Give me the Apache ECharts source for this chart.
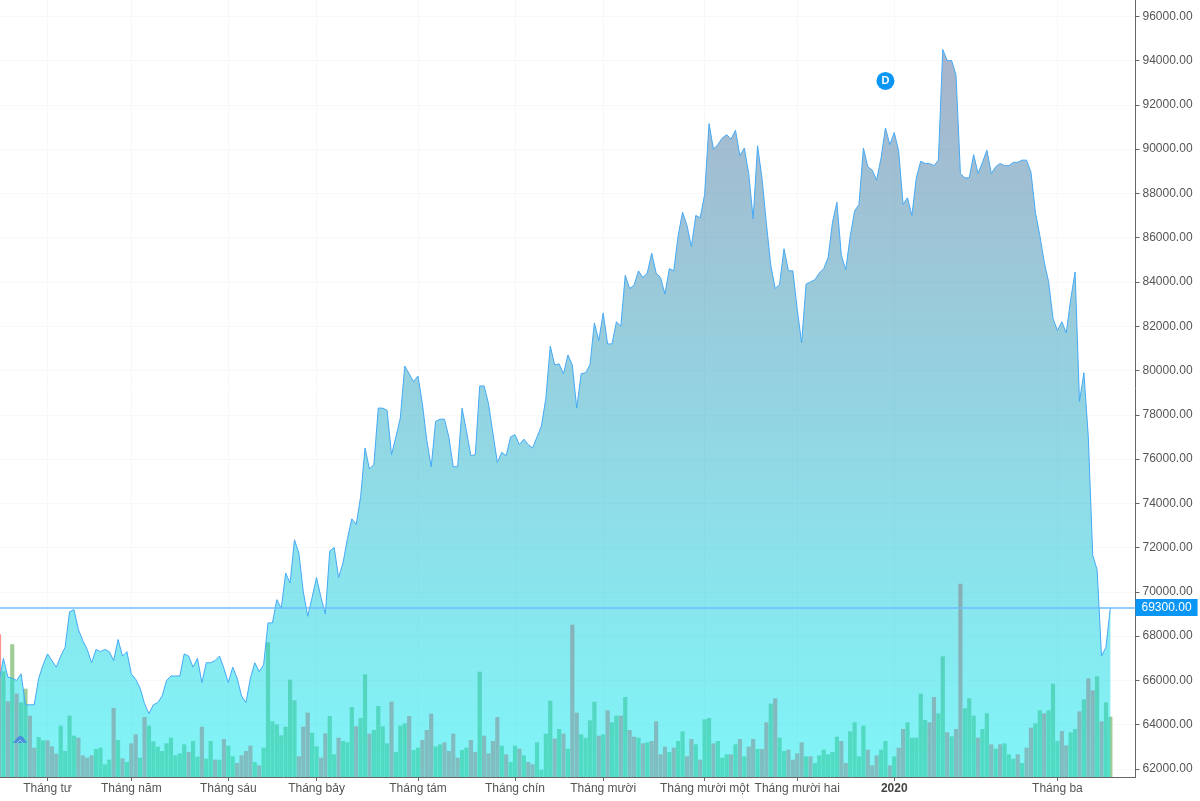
<!DOCTYPE html>
<html>
<head>
<meta charset="utf-8">
<style>html,body{margin:0;padding:0;background:#fff;overflow:hidden}#c{width:1200px;height:801px}</style>
<script src="https://cdn.jsdelivr.net/npm/echarts@6/dist/echarts.min.js"></script>
</head>
<body>
<div id="c"></div>
<script>
const closes = [
65950,67000,66150,66100,66000,66300,64900,64900,64900,66100,
66700,67200,66900,66600,67100,67500,69100,69200,68300,67800,
67400,66800,67400,67300,67400,67300,66900,67850,67100,67300,
66300,66050,65650,64950,64500,64900,65000,65300,66000,66200,
66200,66200,67200,67100,66600,67000,65900,66800,66800,66900,
67100,66550,65900,66600,66100,65300,65000,66100,66800,66400,
66700,68600,68600,69650,69250,70850,70400,72350,71750,70000,
68900,69750,70650,69750,69000,71850,72000,70650,71300,72400,
73300,73050,74300,76500,75550,75750,78300,78300,78200,76200,
77000,77850,80200,79850,79500,79750,78500,76850,75650,77700,
77800,77800,77000,75650,75650,78300,77250,76150,76200,79300,
79300,78500,77150,75850,76300,76150,77000,77100,76650,76900,
76650,76500,77000,77500,78750,81100,80250,80300,79850,80700,
80250,78300,79850,79900,80250,82150,81350,82600,81200,81200,
82200,82000,84300,83700,83850,84500,84200,84400,85300,84400,
84200,83450,84600,84500,86100,87150,86550,85600,87000,86900,
87950,91150,90000,90200,90500,90650,90450,90850,89700,90050,
88900,86850,90150,88700,86650,84750,83700,83900,85500,84500,
84500,82750,81250,83900,84000,84100,84400,84600,85100,86700,
87600,85200,84550,86050,87200,87500,90050,89200,89050,88600,
89600,90950,90200,90750,89900,87500,87800,87000,88700,89450,
89350,89350,89250,89500,94500,94000,94000,93350,88900,88700,
88700,89750,88900,89400,89950,88900,89200,89350,89250,89250,
89400,89400,89500,89500,88950,87150,86100,84900,84000,82350,
81800,82200,81700,83200,84450,78600,79900,77000,71650,71000,
67100,67500,69300];

const volumes = [
428,317,227,398,250,224,265,184,88,120,
110,110,92,70,154,78,184,124,118,65,
58,65,84,88,38,52,207,111,56,45,
101,128,58,180,154,107,91,78,101,118,
65,71,98,75,108,61,151,55,108,52,
52,114,94,62,42,65,78,94,45,35,
88,404,167,158,125,151,292,230,62,151,
193,133,92,58,131,183,68,118,108,104,
210,152,177,308,130,141,213,152,101,226,
75,154,161,183,81,88,111,141,190,92,
98,104,78,130,58,81,88,111,75,316,
124,71,108,180,94,68,45,94,85,65,
45,38,104,22,130,229,115,144,130,85,
457,193,128,118,170,226,124,128,200,164,
184,184,240,141,121,118,101,104,108,167,
68,91,75,88,108,137,62,114,98,52,
173,177,101,108,58,68,68,98,114,62,
91,114,84,84,164,220,236,118,78,82,
52,71,104,62,62,42,65,82,68,75,
121,108,42,137,164,62,154,82,35,65,
82,108,35,62,88,144,164,118,118,250,
171,164,240,191,362,134,122,144,580,206,
236,184,118,144,191,98,85,98,101,68,
55,68,42,88,148,161,200,191,200,280,
108,138,95,134,144,197,233,296,260,302,
167,224,181];

const volumeDirs = [
"dududuuddu","uddduuuudd","dduuuududu","ddu"+"d"+"uuuuuu",
"uuuduuduud","uduudddd"+"ud","uuuuuuuudd","duudduuduu","uduuduuuud","uuuduudddu",
"uddd"+"duudd"+"u","dddduduudu","dduuuududu","dduuuududu","ududdududd",
"ddudu"+"uddud","uuduuududu","ddudduduud","dddud"+"uuuuu","udduu"+"uuddd",
"uudud"+"duuuu","udduu"+"duddu","uuduu"+"duduu","ududd"+"uuduu","udduu"+"duddu","duu"
].join("");

const yTicks = [62000,64000,66000,68000,70000,72000,74000,76000,78000,80000,82000,84000,86000,88000,90000,92000,94000,96000];
const monthIndex = [11,30,52,72,95,117,137,160,181,203,240];
const monthLabels = ["Tháng tư","Tháng năm","Tháng sáu","Tháng bảy","Tháng tám","Tháng chín","Tháng mười","Tháng mười một","Tháng mười hai","2020","Tháng ba"];
const lastPrice = 69300;
const dividendIndex = 201, dividendLevel = 93077;

const FONT = '"Liberation Sans", Arial, sans-serif';
const TEXT = '#555';
const GRIDC = '#f8f8f8';
const chart = echarts.init(document.getElementById('c'), null, {renderer:'canvas'});

chart.setOption({
  animation:false,
  backgroundColor:'#fff',
  grid:{left:0,right:64.5,top:0,bottom:24,containLabel:false},
  xAxis:{
    type:'value', min:0.227, max:257.7, position:'bottom',
    axisLine:{show:true,onZero:false,lineStyle:{color:'#666',width:1}},
    axisTick:{show:true,length:4,inside:false,lineStyle:{color:'#666'},customValues:monthIndex},
    axisLabel:{show:true,customValues:monthIndex,margin:6,fontFamily:FONT,fontSize:12,color:TEXT,hideOverlap:false,
      formatter:v=>{const k=monthIndex.indexOf(v);const s=monthLabels[k]||'';return s==='2020'?'{b|'+s+'}':s;},
      rich:{b:{fontFamily:FONT,fontSize:12,fontWeight:'bold',color:'#444'}}},
    splitLine:{show:true,lineStyle:{color:GRIDC},customValues:monthIndex}
  },
  yAxis:[
    {type:'value',position:'right',min:61639,max:96733,scale:true,
     axisLine:{show:true,onZero:false,lineStyle:{color:'#666',width:1}},
     axisTick:{show:true,length:4,lineStyle:{color:'#666'},customValues:yTicks},
     axisLabel:{show:true,customValues:yTicks,margin:7,fontFamily:FONT,fontSize:12,color:TEXT,formatter:v=>v.toFixed(2)},
     splitLine:{show:true,lineStyle:{color:GRIDC},customValues:yTicks}},
    {type:'value',position:'right',min:0,max:2331,show:false,splitLine:{show:false}}
  ],
  series:[
    {type:'bar',name:'volume',yAxisIndex:1,barWidth:4.2,z:1,silent:true,
     data:volumes.map((v,i)=>({value:[i,v],itemStyle:{color:volumeDirs[i]==='u'?'#a0cd96':'#ff9191'}}))},
    {type:'line',name:'price',yAxisIndex:0,z:2,silent:true,symbol:'none',
     data:closes.map((v,i)=>[i,v]),
     lineStyle:{color:'#45a9f5',width:1},
     areaStyle:{origin:'start',opacity:1,color:new echarts.graphic.LinearGradient(0,0,0,1,[
       {offset:0,color:'rgba(81,105,151,0.5)'},
       {offset:1,color:'rgba(0,236,242,0.5)'}])},
     markLine:{silent:true,symbol:'none',animation:false,
       label:{show:true,position:'end',distance:0,formatter:lastPrice.toFixed(2),
         backgroundColor:'#0a96f5',color:'#fff',fontFamily:FONT,fontSize:12,padding:[3,6,2,6]},
       data:[{yAxis:lastPrice,lineStyle:{color:'#6cbcff',type:'solid',width:1.5,opacity:1}}]},
     markPoint:{silent:true,animation:false,symbol:'circle',symbolSize:18,
       itemStyle:{color:'#0a96f5'},
       label:{show:true,formatter:'D',color:'#fff',fontFamily:FONT,fontWeight:'bold',fontSize:11},
       data:[{coord:[dividendIndex,dividendLevel]}]}
    }
  ],
  graphic:[
    {type:'polygon',z:50,silent:true,shape:{points:[[13,743],[17,738],[20,735.5],[23,737],[27,743]]},style:{fill:'#4a8fdc'}},
    {type:'polyline',z:51,silent:true,shape:{points:[[17,743],[20,740],[23,743]]},style:{stroke:'#9fd6ee',lineWidth:0.8,fill:null}}
  ]
});
</script>
</body>
</html>
